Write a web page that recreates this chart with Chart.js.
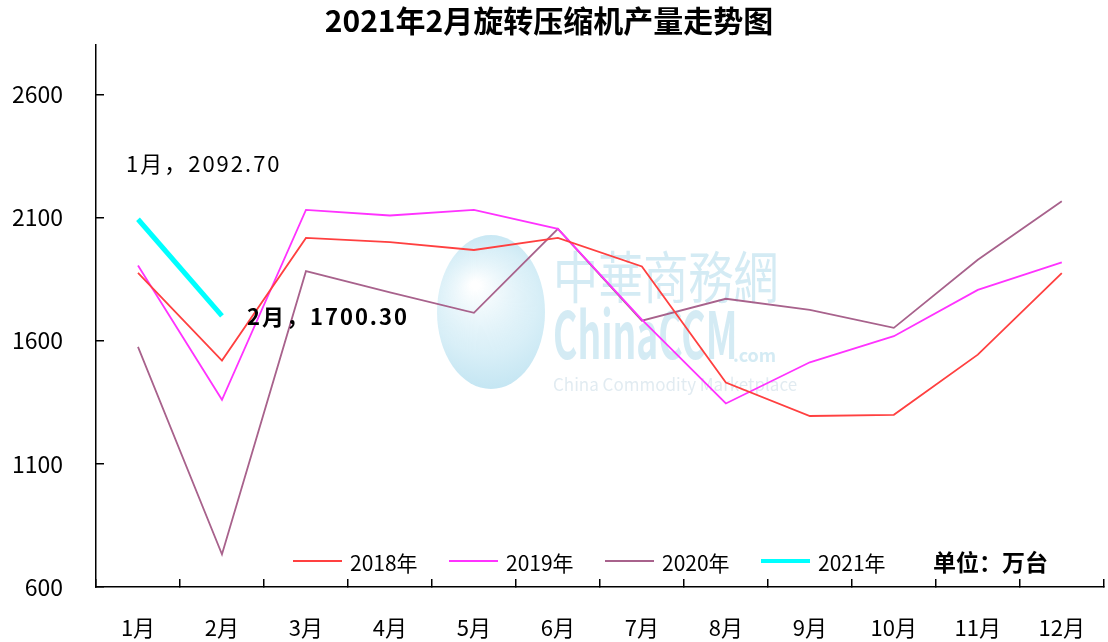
<!DOCTYPE html>
<html lang="zh">
<head>
    <meta charset="UTF-8">
    <title>2021年2月旋转压缩机产量走势图</title>
    <style>
        body { margin: 0; overflow: hidden; background: #fff; }
        #wrap { width: 1120px; height: 642px; }
    </style>
</head>
<body>

    <div id="wrap">
        <canvas id="myChart"></canvas>
    </div>

    <script src="https://cdn.jsdelivr.net/npm/chart.js"></script>

    <script>
        const months = ['1月', '2月', '3月', '4月', '5月', '6月', '7月', '8月', '9月', '10月', '11月', '12月'];
        const years = ['2018年', '2019年', '2020年', '2021年'];
        const y2018 = [1875, 1519, 2017, 2000, 1968, 2017, 1901, 1430, 1294, 1299, 1543, 1874];
        const y2019 = [1905, 1360, 2131, 2108, 2131, 2054, 1685, 1345, 1512, 1618, 1806, 1918];
        const y2020 = [1575, 733, 1882, 1796, 1713, 2054, 1681, 1770, 1725, 1652, 1928, 2166];
        const y2021 = [2092.70, 1700.30];
        const yTicks = [600, 1100, 1600, 2100, 2600];
        const unitText = '单位：万台';

        const colors = ['#FF4040', '#FF33FF', '#A8628C', '#00FFFF'];
        const widths = [1.8, 1.8, 1.8, 5];
        const cjk = "'Noto Sans CJK SC', sans-serif";

        const ctx = document.getElementById('myChart');

        // watermark, legend and point labels
        const extras = {
            id: 'extras',
            afterLayout(chart) {
                // the plot is cropped on the right, so keep the title centred on the visible page
                chart.titleBlock.right -= 22;
            },
            beforeDatasetsDraw(chart) {
                const c = chart.ctx;
                c.save();
                const g = c.createRadialGradient(475, 285, 4, 491, 312, 85);
                g.addColorStop(0, 'rgba(255,255,255,0.95)');
                g.addColorStop(0.6, 'rgba(200,232,244,0.7)');
                g.addColorStop(1, 'rgba(165,216,236,0.7)');
                c.fillStyle = g;
                c.beginPath();
                c.ellipse(491, 312, 54, 77, 0, 0, Math.PI * 2);
                c.fill();
                c.fillStyle = 'rgba(170,216,234,0.5)';
                c.font = '46px ' + cjk;
                c.textBaseline = 'alphabetic';
                c.save();
                c.translate(553, 298);
                c.scale(0.98, 1.2);
                c.fillText('中華商務網', 0, 0);
                c.restore();
                c.save();
                c.translate(553, 359);
                c.scale(0.6, 1.05);
                c.font = 'bold 62px ' + cjk;
                c.fillText('ChinaCCM', 0, 0);
                c.restore();
                c.font = 'bold 18px ' + cjk;
                c.fillText('.com', 733, 362);
                c.font = '17px ' + cjk;
                c.fillStyle = 'rgba(180,205,220,0.4)';
                c.fillText('China Commodity Marketplace', 553, 391);
                c.restore();
            },
            afterDraw(chart) {
                const c = chart.ctx;
                c.save();
                c.textBaseline = 'middle';
                c.fillStyle = '#000';

                // legend inside the plot
                let x = 293;
                const ly = 561;
                chart.data.datasets.forEach((ds, i) => {
                    c.strokeStyle = ds.borderColor;
                    c.lineWidth = i === 3 ? 4 : 2;
                    c.beginPath();
                    c.moveTo(x, ly);
                    c.lineTo(x + 49, ly);
                    c.stroke();
                    c.font = '21px ' + cjk;
                    c.fillText(ds.label, x + 57, ly + 2);
                    x += 156;
                });
                c.font = 'bold 23px ' + cjk;
                c.fillText(unitText, 933, ly + 1);

                // labels of the 2021 points
                const pts = chart.getDatasetMeta(3).data;
                c.letterSpacing = '2px';
                c.font = '22px ' + cjk;
                c.fillText(months[0] + '，' + y2021[0].toFixed(2), pts[0].x - 12, pts[0].y - 56);
                c.font = 'bold 22px ' + cjk;
                c.fillText(months[1] + '，' + y2021[1].toFixed(2), pts[1].x + 25, pts[1].y + 1);
                c.restore();
            }
        };

        new Chart(ctx, {
            type: 'line',
            data: {
                labels: months,
                datasets: [y2018, y2019, y2020, y2021].map((d, i) => ({
                    label: years[i],
                    data: d,
                    borderColor: colors[i],
                    backgroundColor: colors[i],
                    borderWidth: widths[i],
                    pointRadius: 0,
                    tension: 0
                }))
            },
            options: {
                responsive: true,
                maintainAspectRatio: false,
                animation: false,
                layout: { padding: 0 },
                plugins: {
                    legend: { display: false },
                    tooltip: { enabled: false },
                    title: {
                        display: true,
                        text: '2021年2月旋转压缩机产量走势图',
                        color: '#000',
                        font: { family: cjk, size: 30, weight: 'bold' },
                        padding: { top: 3, bottom: 6 }
                    }
                },
                scales: {
                    x: {
                        offset: true,
                        grid: {
                            offset: true,
                            drawOnChartArea: false,
                            tickLength: -8,
                            color: '#000',
                            lineWidth: 1.5
                        },
                        border: { color: '#000', width: 1.5 },
                        ticks: {
                            color: '#000',
                            padding: 35,
                            font: { family: cjk, size: 22 },
                            maxRotation: 0,
                            autoSkip: false
                        },
                        afterFit: s => { s.height = 55; }
                    },
                    y: {
                        min: 600,
                        max: 2800,
                        grid: {
                            drawOnChartArea: false,
                            tickLength: -8,
                            color: '#000',
                            lineWidth: 1.5
                        },
                        border: { color: '#000', width: 1.5 },
                        ticks: {
                            stepSize: 500,
                            color: '#000',
                            padding: 41,
                            font: { family: cjk, size: 23 },
                            callback: v => String(v)
                        },
                        afterBuildTicks: s => {
                            s.ticks = yTicks.map(v => ({ value: v }));
                        },
                        afterFit: s => {
                            s.width = 96;
                            s.paddingTop = 0;
                            s.paddingBottom = 0;
                        }
                    }
                }
            },
            plugins: [extras]
        });
    </script>

</body>
</html>
